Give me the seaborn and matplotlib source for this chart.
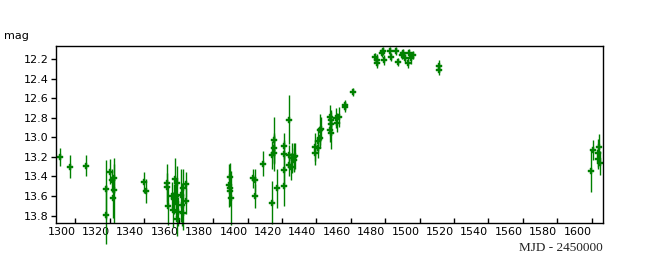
import matplotlib
matplotlib.use("Agg")
import matplotlib.pyplot as plt
import seaborn as sns
import pandas as pd

# MJD - 2450000
mjd = [1291.3, 1297.1, 1306.4,
       1317.8, 1317.8, 1320.3, 1321.3, 1321.9, 1322.6, 1322.3,
       1339.7, 1341.2,
       1353.2, 1353.2, 1353.8, 1356.1, 1356.5, 1357.1, 1358.1, 1358.7, 1358.7,
       1359.0, 1359.0, 1359.4, 1361.4, 1362.0, 1362.5, 1362.5, 1364.5, 1364.5,
       1389.4, 1390.0, 1390.0, 1390.0, 1390.6,
       1403.2, 1404.5, 1404.5, 1409.0, 1414.2, 1414.2, 1415.2, 1415.4, 1415.6, 1417.1,
       1421.4, 1421.4, 1421.4, 1421.4, 1424.1, 1424.1, 1424.1, 1425.2, 1425.8,
       1426.8, 1426.8, 1427.8,
       1439.4, 1439.4, 1440.7, 1440.7, 1441.9, 1441.9, 1442.7,
       1447.7, 1447.7, 1448.5, 1448.5, 1448.7, 1451.6, 1452.0, 1453.1,
       1456.8, 1456.8, 1461.3,
       1474.2, 1475.2, 1475.2, 1478.1, 1479.0, 1479.4, 1483.0, 1483.3, 1486.4,
       1487.7, 1489.7, 1490.3, 1491.6, 1493.2, 1494.1, 1495.1, 1496.1,
       1511.0, 1511.4,
       1599.7, 1600.6, 1603.5, 1604.5, 1603.9, 1604.9]

mag = [13.20, 13.30, 13.29,
       13.53, 13.79, 13.35, 13.44, 13.62, 13.54, 13.42,
       13.46, 13.55,
       13.47, 13.51, 13.70, 13.60, 13.74, 13.63, 13.43, 13.66, 13.60,
       13.47, 13.83, 13.76, 13.59, 13.69, 13.52, 13.77, 13.48, 13.65,
       13.49, 13.41, 13.52, 13.55, 13.62,
       13.42, 13.44, 13.60, 13.27, 13.18, 13.67, 13.03, 13.11, 13.16, 13.52,
       13.09, 13.17, 13.33, 13.50, 12.82, 13.18, 13.28, 13.30, 13.21,
       13.20, 13.23, 13.19,
       13.10, 13.16, 13.04, 13.11, 12.92, 13.01, 12.91,
       12.79, 12.93, 12.82, 12.86, 12.96, 12.80, 12.85, 12.79,
       12.67, 12.69, 12.54,
       12.18, 12.21, 12.24, 12.14, 12.12, 12.21, 12.12, 12.18, 12.12,
       12.23, 12.16, 12.14, 12.19, 12.24, 12.14, 12.19, 12.16,
       12.27, 12.31,
       13.34, 13.13, 13.16, 13.10, 13.22, 13.26]

err = [0.09, 0.12, 0.11,
       0.30, 0.30, 0.13, 0.12, 0.20, 0.33, 0.15,
       0.11, 0.12,
       0.20, 0.15, 0.20, 0.14, 0.18, 0.15, 0.22, 0.15, 0.12,
       0.18, 0.18, 0.15, 0.27, 0.22, 0.20, 0.18, 0.13, 0.13,
       0.22, 0.15, 0.18, 0.12, 0.28,
       0.10, 0.12, 0.12, 0.13, 0.14, 0.22, 0.24, 0.15, 0.18, 0.20,
       0.13, 0.14, 0.14, 0.20, 0.25, 0.10, 0.12, 0.14, 0.15,
       0.14, 0.12, 0.13,
       0.14, 0.12, 0.12, 0.10, 0.16, 0.10, 0.12,
       0.12, 0.12, 0.10, 0.12, 0.16, 0.10, 0.10, 0.10,
       0.05, 0.05, 0.04,
       0.04, 0.06, 0.05, 0.04, 0.04, 0.05, 0.04, 0.04, 0.04,
       0.04, 0.04, 0.04, 0.04, 0.05, 0.04, 0.06, 0.04,
       0.06, 0.05,
       0.22, 0.10, 0.14, 0.13, 0.10, 0.12]

xticks = list(range(1300, 1601, 20))
yticks = [12.2, 12.4, 12.6, 12.8, 13.0, 13.2, 13.4, 13.6, 13.8]

df = pd.DataFrame({"mjd": mjd, "mag": mag, "err": err})

sns.set_theme(style="white")
plt.rcParams["font.family"] = ["DejaVu Sans"]

fig = plt.figure(figsize=(6.5, 2.8), dpi=100)
W, H = 650, 280
ax = fig.add_axes([56 / W, 1 - 223 / H, (603 - 56) / W, (223 - 46) / H])

green = "#008000"
eb = ax.errorbar(df["mjd"], df["mag"], yerr=df["err"], fmt="none",
                 ecolor=green, elinewidth=1.0, capsize=0, zorder=2)
for coll in eb.lines[2]:
    coll.set_clip_on(False)
sns.scatterplot(data=df, x="mjd", y="mag", ax=ax, marker="P", s=24,
                color=green, edgecolor=green, linewidth=0.3, zorder=3,
                legend=False)

ax.set_xlim(1288.7, 1606.6)
ax.set_ylim(13.875, 12.067)
ax.set_xticks(xticks)
ax.set_xticklabels([str(t) for t in xticks], ha="right")
ax.set_yticks(yticks)
ax.set_yticklabels([f"{t:.1f}" for t in yticks])
ax.set_xlabel("")
ax.set_ylabel("")

for s in ax.spines.values():
    s.set_color("black")
    s.set_linewidth(1.0)
    s.set_zorder(4)

ax.tick_params(axis="x", direction="in", length=3.5, width=1, colors="black",
               labelsize=8, pad=3, bottom=True, top=False)
ax.tick_params(axis="y", direction="out", length=3.5, width=1, colors="black",
               labelsize=8, pad=2, left=True, right=False)

fig.text(4 / W, 1 - 36 / H, "mag", fontsize=8, va="center", ha="left", color="black")
fig.text(603 / W, 1 - 248 / H, "MJD - 2450000", fontsize=9.5, va="center", ha="right",
         family=["Liberation Serif", "DejaVu Serif"], color="#222222")

fig.savefig("out.png", dpi=100, facecolor="white")
